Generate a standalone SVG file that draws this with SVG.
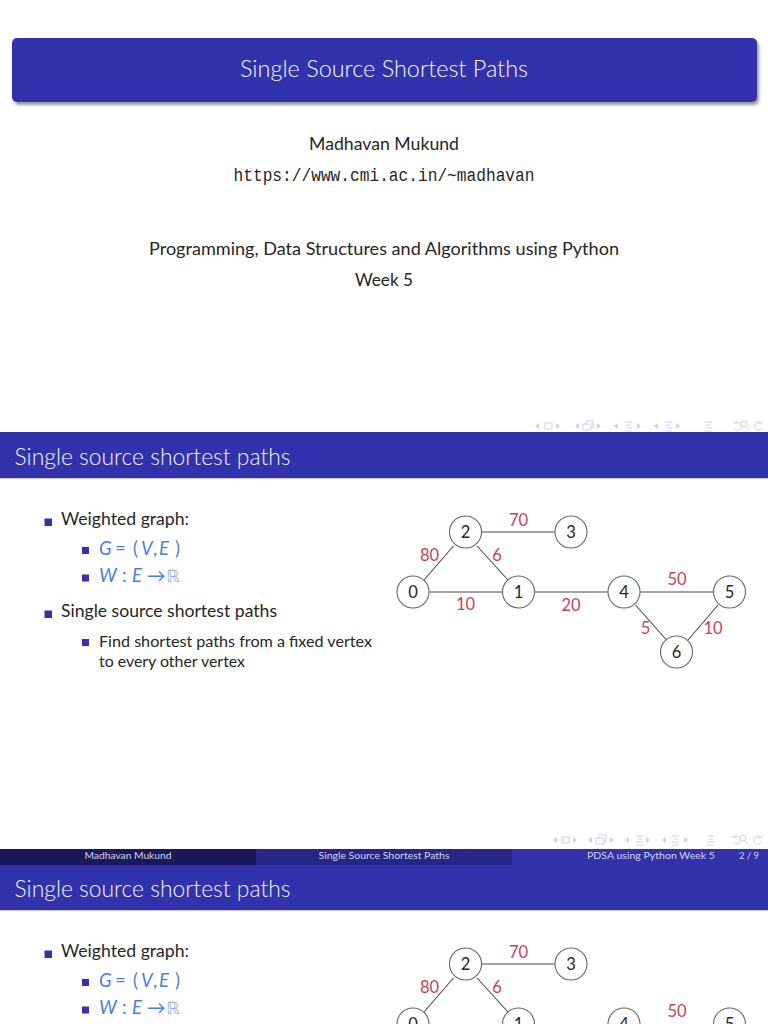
<svg xmlns="http://www.w3.org/2000/svg" width="768" height="1024" viewBox="0 0 768 1024">
<style>
text{font-family:"Lato","Open Sans","Liberation Sans",sans-serif;fill:#262626}
.c{text-anchor:middle}
.head{font-size:23.500px;fill:#f6f6fc;font-weight:300}
.l1{font-size:17.500px}
.l2{font-size:15.500px}
.math{font-size:18.500px;fill:#4583d4}
.math .i{font-style:italic}
.bb{font-family:"DejaVu Sans",sans-serif;font-size:17px;fill:#8fb4e6}
.tm{font-size:17.500px;text-anchor:middle}
.mono{font-family:"Liberation Mono",monospace;font-size:17.500px;text-anchor:middle}
.foot{font-size:10.200px;fill:#d4d4ee;text-anchor:middle}
.w{font-size:16.500px;fill:#c9405a;text-anchor:middle}
.n{font-size:16.500px;text-anchor:middle}
.b{fill:#3232ad}
.nc{fill:#fff;stroke:#666;stroke-width:1.100}
.e{stroke:#4a4a4a;stroke-width:1.100;fill:none}
.nav{stroke:#cfcfee;stroke-width:1;fill:none}
.navf{fill:#cfcfee}
</style>
<defs>
<filter id="sh" x="-5%" y="-30%" width="110%" height="160%"><feGaussianBlur stdDeviation="1.600"/></filter>
<path id="tl" class="navf" d="M0 0l4-3v6z"/>
<path id="tr" class="navf" d="M0 0l-4-3v6z"/>
<g id="nav1"><rect class="nav" x="0" y="-3" width="7" height="6"/></g>
<g id="nav2"><path class="nav" d="M0 4V-2h8v6zM3-2V-5h7v6h-2"/></g>
<g id="nav3"><path class="nav" d="M0-4h7M1-1h5M0 2h7M0 5h7"/></g>
<g id="nav6"><path class="nav" d="M2-3a4 4 0 1 1-1 5M0-5l1.500 3 3-1M11-2m-3 0a3 3 0 1 0 6 0a3 3 0 1 0-6 0M13 1l3 3M28-3a4 4 0 1 0 1 5M30-5l-1.500 3-3-1"/></g>
</defs>

<g id="title-slide">
<rect x="14" y="41" width="745" height="64" rx="5" fill="#555" opacity=".6" filter="url(#sh)"/>
<rect class="b" x="12" y="38" width="745" height="64" rx="5"/>
<text class="head c" x="384" y="77" textLength="288" lengthAdjust="spacingAndGlyphs">Single Source Shortest Paths</text>
<text class="tm" x="384" y="150" textLength="150" lengthAdjust="spacingAndGlyphs">Madhavan Mukund</text>
<text class="mono" x="384" y="181" textLength="301" lengthAdjust="spacingAndGlyphs">https://www.cmi.ac.in/~madhavan</text>
<text class="tm" x="384" y="255" textLength="470" lengthAdjust="spacingAndGlyphs">Programming, Data Structures and Algorithms using Python</text>
<text class="tm" x="384" y="286" textLength="58" lengthAdjust="spacingAndGlyphs">Week 5</text>
</g>
<g id="nav-slide-1" transform="translate(0,426)">
<use href="#tl" x="535"/><use href="#nav1" x="545"/><use href="#tr" x="560"/>
<use href="#tl" x="575"/><use href="#nav2" x="583"/><use href="#tr" x="601"/>
<use href="#tl" x="614"/><use href="#nav3" x="625"/><use href="#tr" x="641"/>
<use href="#tl" x="654"/><use href="#nav3" x="665"/><use href="#tr" x="680"/>
<use href="#nav3" x="705"/>
<use href="#nav6" x="733"/>
</g>

<g id="slide-2-frame">
<rect class="b" x="0" y="432" width="768" height="46"/>
<rect x="0" y="478" width="768" height="1" fill="#c8c8e8"/>
<text class="head" x="14.500" y="465" textLength="276" lengthAdjust="spacingAndGlyphs">Single source shortest paths</text>
</g>
<g id="nav-slide-2" transform="translate(0,840)">
<use href="#tl" x="553"/><use href="#nav1" x="562"/><use href="#tr" x="577"/>
<use href="#tl" x="588"/><use href="#nav2" x="596"/><use href="#tr" x="614"/>
<use href="#tl" x="625"/><use href="#nav3" x="636"/><use href="#tr" x="650"/>
<use href="#tl" x="662"/><use href="#nav3" x="672"/><use href="#tr" x="688"/>
<use href="#nav3" x="707"/>
<use href="#nav6" x="732"/>
</g>

<g id="slide-2-text">
<rect class="b" x="44.500" y="518.500" width="7.500" height="7.500"/>
<text class="l1" x="61" y="525" textLength="128" lengthAdjust="spacingAndGlyphs">Weighted graph:</text>
<rect class="b" x="82" y="547" width="7" height="7"/>
<text class="math" y="555"><tspan class="i" x="99">G</tspan><tspan x="115">=</tspan><tspan x="133">(</tspan><tspan class="i" x="141">V</tspan><tspan x="153">,</tspan><tspan class="i" x="159">E</tspan><tspan x="175">)</tspan></text>
<rect class="b" x="82" y="574.500" width="7" height="7"/>
<text class="math" y="582"><tspan class="i" x="99">W</tspan><tspan x="122">:</tspan><tspan class="i" x="132">E</tspan><tspan x="147">→</tspan></text>
<text class="bb" x="166" y="582">ℝ</text>
<rect class="b" x="44.500" y="610.500" width="7.500" height="7.500"/>
<text class="l1" x="61" y="617" textLength="216" lengthAdjust="spacingAndGlyphs">Single source shortest paths</text>
<rect class="b" x="82" y="639" width="7" height="7"/>
<text class="l2" x="99" y="647" textLength="273" lengthAdjust="spacingAndGlyphs">Find shortest paths from a fixed vertex</text>
<text class="l2" x="99" y="667" textLength="146" lengthAdjust="spacingAndGlyphs">to every other vertex</text>
</g>

<g id="connectors-a">
<path class="e" d="M481.500 532H555M429 592H502M534 592H608M640 592H713.500M453.500 546L424 580M477 546L508 580M635.500 605L666.500 640M718 605L688 640"/>
</g>
<g id="edge-labels-a">
<text class="w" x="518.500" y="526">70</text><text class="w" x="429.500" y="561">80</text><text class="w" x="497" y="561">6</text>
<text class="w" x="465.500" y="610">10</text><text class="w" x="571" y="611">20</text><text class="w" x="677" y="585">50</text>
<text class="w" x="645.500" y="634">5</text><text class="w" x="713" y="634">10</text>
</g>
<g id="a-node-0"><circle class="nc" cx="413" cy="592" r="16"/><text class="n" x="413" y="598">0</text></g>
<g id="a-node-1"><circle class="nc" cx="518.500" cy="592" r="16"/><text class="n" x="518.500" y="598">1</text></g>
<g id="a-node-2"><circle class="nc" cx="465.500" cy="532" r="16"/><text class="n" x="465.500" y="538">2</text></g>
<g id="a-node-3"><circle class="nc" cx="571" cy="532" r="16"/><text class="n" x="571" y="538">3</text></g>
<g id="a-node-4"><circle class="nc" cx="624" cy="592" r="16"/><text class="n" x="624" y="598">4</text></g>
<g id="a-node-5"><circle class="nc" cx="729.500" cy="592" r="16"/><text class="n" x="729.500" y="598">5</text></g>
<g id="a-node-6"><circle class="nc" cx="676.500" cy="652" r="16"/><text class="n" x="676.500" y="658">6</text></g>

<g id="footer">
<rect x="0" y="849" width="256" height="16" fill="#191959"/>
<rect x="256" y="849" width="256" height="16" fill="#262686"/>
<rect class="b" x="512" y="849" width="256" height="16"/>
<text class="foot" x="128" y="859" textLength="87" lengthAdjust="spacingAndGlyphs">Madhavan Mukund</text>
<text class="foot" x="384" y="859" textLength="131" lengthAdjust="spacingAndGlyphs">Single Source Shortest Paths</text>
<text class="foot" x="651" y="859" textLength="128" lengthAdjust="spacingAndGlyphs">PDSA using Python Week 5</text>
<text class="foot" x="749" y="859" textLength="20" lengthAdjust="spacingAndGlyphs">2 / 9</text>
</g>

<g id="slide-3-frame">
<rect class="b" x="0" y="865" width="768" height="45"/>
<rect x="0" y="910" width="768" height="1" fill="#c8c8e8"/>
<text class="head" x="14.500" y="897" textLength="276" lengthAdjust="spacingAndGlyphs">Single source shortest paths</text>
</g>
<g id="slide-3-text">
<rect class="b" x="44.500" y="950.500" width="7.500" height="7.500"/>
<text class="l1" x="61" y="957" textLength="128" lengthAdjust="spacingAndGlyphs">Weighted graph:</text>
<rect class="b" x="82" y="979" width="7" height="7"/>
<text class="math" y="987"><tspan class="i" x="99">G</tspan><tspan x="115">=</tspan><tspan x="133">(</tspan><tspan class="i" x="141">V</tspan><tspan x="153">,</tspan><tspan class="i" x="159">E</tspan><tspan x="175">)</tspan></text>
<rect class="b" x="82" y="1006.500" width="7" height="7"/>
<text class="math" y="1014"><tspan class="i" x="99">W</tspan><tspan x="122">:</tspan><tspan class="i" x="132">E</tspan><tspan x="147">→</tspan></text>
<text class="bb" x="166" y="1014">ℝ</text>
</g>

<g id="connectors-b">
<path class="e" d="M481.500 964H555M453.500 978L424 1012M477 978L508 1012"/>
</g>
<g id="edge-labels-b">
<text class="w" x="518.500" y="958">70</text><text class="w" x="429.500" y="993">80</text><text class="w" x="497" y="993">6</text><text class="w" x="677" y="1017">50</text>
</g>
<g id="b-node-0"><circle class="nc" cx="413" cy="1024" r="16"/><text class="n" x="413" y="1030">0</text></g>
<g id="b-node-1"><circle class="nc" cx="518.500" cy="1024" r="16"/><text class="n" x="518.500" y="1030">1</text></g>
<g id="b-node-2"><circle class="nc" cx="465.500" cy="964" r="16"/><text class="n" x="465.500" y="970">2</text></g>
<g id="b-node-3"><circle class="nc" cx="571" cy="964" r="16"/><text class="n" x="571" y="970">3</text></g>
<g id="b-node-4"><circle class="nc" cx="624" cy="1024" r="16"/><text class="n" x="624" y="1030">4</text></g>
<g id="b-node-5"><circle class="nc" cx="729.500" cy="1024" r="16"/><text class="n" x="729.500" y="1030">5</text></g>
</svg>
